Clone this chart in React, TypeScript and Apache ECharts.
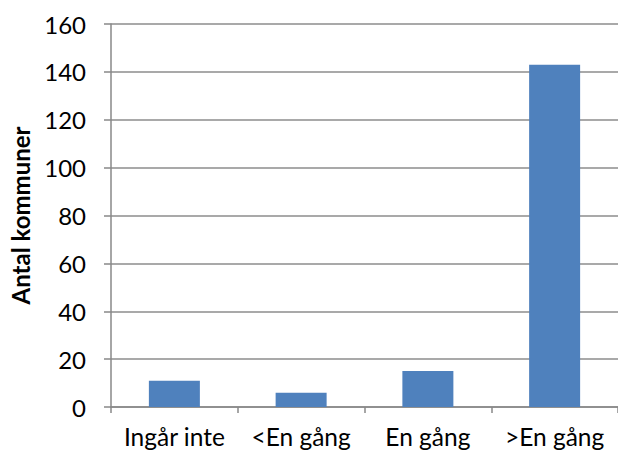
import React, { useEffect, useRef } from "react";
import * as echarts from "echarts";

const categories = ["Ingår inte", "<En gång", "En gång", ">En gång"];
const values = [11, 6, 15, 143];
const yTicks = { min: 0, max: 160, interval: 20 };
const yAxisTitle = "Antal kommuner";

export default function App() {
  const ref = useRef<HTMLDivElement>(null);
  useEffect(() => {
    if (!ref.current) return;
    const chart = echarts.init(ref.current, undefined, { renderer: "svg" });
    const font = "Lato";
    chart.setOption({
      animation: false,
      grid: { left: 111, top: 24, width: 514, height: 383, containLabel: false },
      xAxis: {
        type: "category",
        data: categories,
        axisLine: { lineStyle: { color: "#888888", width: 1.5 } },
        axisTick: { show: true, interval: 0, length: 6, lineStyle: { color: "#888888", width: 1.5 } },
        axisLabel: { color: "#000", fontSize: 24.5, fontFamily: font, margin: 17, interval: 0, hideOverlap: false },
      },
      yAxis: {
        type: "value",
        min: yTicks.min,
        max: yTicks.max,
        interval: yTicks.interval,
        name: yAxisTitle,
        nameLocation: "middle",
        nameGap: 79,
        nameTextStyle: { color: "#000", fontSize: 24, fontWeight: "bold", fontFamily: font },
        axisLine: { show: true, lineStyle: { color: "#888888", width: 1.5 } },
        axisTick: { show: true, length: 7, lineStyle: { color: "#888888", width: 1.5 } },
        axisLabel: { color: "#000", fontSize: 24, fontFamily: font, margin: 25 },
        splitLine: { show: true, lineStyle: { color: "#8c8c8c", width: 1.5 } },
      },
      series: [
        {
          type: "bar",
          data: values,
          barWidth: 51,
          itemStyle: { color: "#4f81bd" },
        },
      ],
    });
    return () => chart.dispose();
  }, []);
  return <div ref={ref} style={{ width: 618, height: 455, position: "absolute", left: 0, top: 0 }} />;
}
